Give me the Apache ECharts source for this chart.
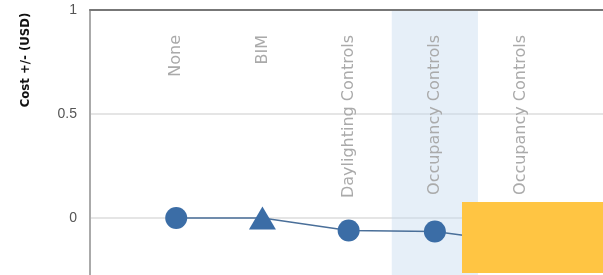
<!DOCTYPE html>
<html>
<head>
<meta charset="utf-8">
<script src="https://cdn.jsdelivr.net/npm/echarts@6/dist/echarts.min.js"></script>
<style>
  html, body { margin: 0; padding: 0; background: #fff; overflow: hidden; }
  /* the plot runs on below the visible window, down to -0.5 */
  #chart { width: 603px; height: 340px; }
</style>
</head>
<body>
<div id="chart"></div>
<script>
// categories sit on x = 1..5, x = 0 is the empty left edge
const categories = ['', 'None', 'BIM', 'Daylighting Controls', 'Occupancy Controls', 'Occupancy Controls']
const costValues = [0, 0, -0.06, -0.065, -0.12]
const yTicks = [-0.5, 0, 0.5, 1]
const highlightIndex = 4

const chart = echarts.init(document.getElementById('chart'))

const points = costValues.map((v, i) => [i + 1, v])

const option = {
  animation: false,
  grid: { left: 90, right: 0, top: 10, height: 312 },
  xAxis: {
    type: 'value',
    position: 'top',
    z: 5,
    min: 0,
    max: 5.95,
    interval: 1,
    axisLine: { show: true, onZero: false, lineStyle: { color: '#777', width: 2 } },
    axisTick: { show: false },
    splitLine: { show: false },
    axisLabel: {
      inside: true,
      rotate: -90,
      margin: 25,
      color: '#aaa',
      fontFamily: 'DejaVu Sans',
      fontSize: 16,
      showMaxLabel: false,
      formatter: v => categories[v] || ''
    }
  },
  yAxis: {
    type: 'value',
    min: yTicks[0],
    max: yTicks[yTicks.length - 1],
    interval: 0.5,
    axisLine: { show: true, onZero: false, lineStyle: { color: '#aaa', width: 2 } },
    axisTick: { show: false },
    splitLine: { lineStyle: { color: '#ddd', width: 1.5 } },
    axisLabel: {
      margin: 13,
      color: '#555',
      fontFamily: 'Liberation Sans',
      fontSize: 14
    }
  },
  series: [
    {
      type: 'line',
      data: points,
      symbol: (v, p) => (p.dataIndex === 1 ? 'triangle' : 'circle'),
      symbolSize: (v, p) => (p.dataIndex === 1 ? [27, 23] : 22),
      itemStyle: { color: '#3b6da6' },
      lineStyle: { color: '#4a6f99', width: 1.5 },
      markArea: {
        silent: true,
        itemStyle: { color: 'rgba(200,220,240,0.45)' },
        data: [[{ xAxis: highlightIndex - 0.5 }, { xAxis: highlightIndex + 0.5 }]]
      }
    }
  ],
  graphic: [
    {
      type: 'text',
      x: 26,
      y: 60,
      rotation: Math.PI / 2,
      style: {
        text: 'Cost +/- (USD)',
        fill: '#111',
        font: 'bold 13px "DejaVu Sans Condensed"',
        align: 'center',
        verticalAlign: 'middle'
      }
    },
    {
      type: 'rect',
      z: 100,
      shape: { x: 462, y: 202, width: 141, height: 71 },
      style: { fill: '#ffc543' }
    }
  ]
}

chart.setOption(option)
</script>
</body>
</html>
